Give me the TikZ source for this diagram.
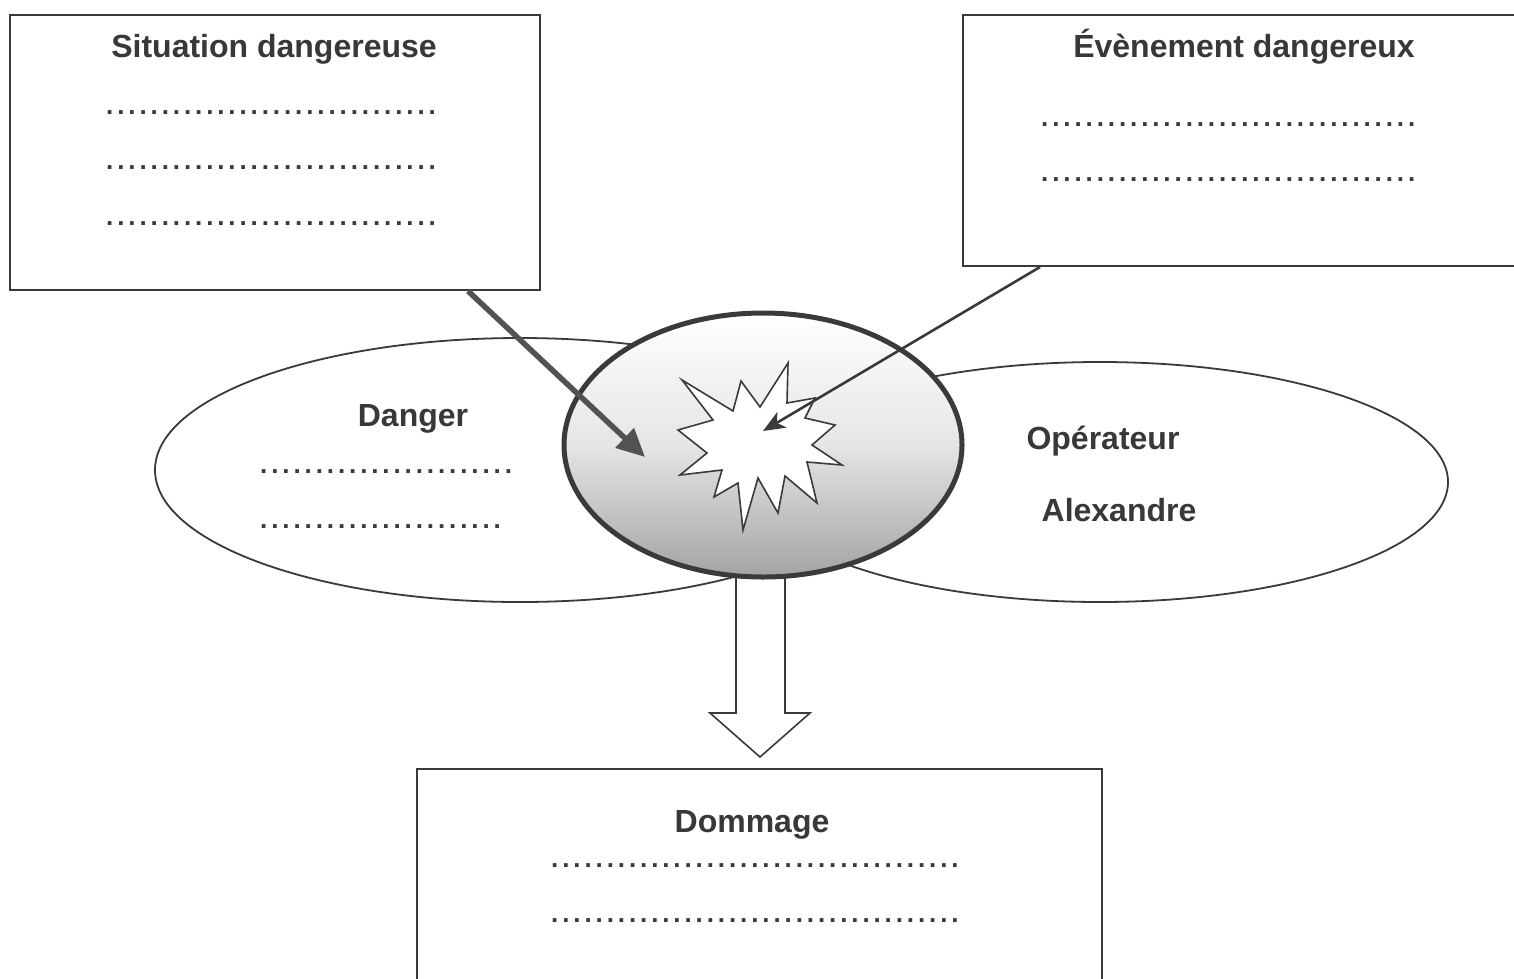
\documentclass[tikz,border=0pt]{standalone}
\usepackage{fontspec}
\setmainfont{Liberation Sans}
\newfontfamily\dotf{Liberation Sans}
\usetikzlibrary{shapes.geometric,arrows.meta}
\definecolor{ink}{HTML}{3A3A3A}
\definecolor{txt}{HTML}{383838}
\newcount\dotcnt
\newcommand\dotline[1]{\dotcnt=0\relax\loop.\advance\dotcnt by 1\relax\ifnum\dotcnt<#1 \kern3.89pt\repeat}
\tikzset{
  lbl/.style={anchor=base,inner sep=0pt,text=txt,font=\fontsize{32}{38}\selectfont\bfseries},
  dotrow/.style={anchor=base west,inner sep=0pt,text height=4pt,text depth=0pt,text=ink,font=\fontsize{26}{30}\dotf\bfseries},
  boxnode/.style={draw=ink,line width=2pt,fill=white,rectangle,inner sep=0pt},
  sideell/.style={draw=ink,line width=1.8pt,fill=white,ellipse,inner sep=0pt},
}
\begin{document}
\begin{tikzpicture}[x=1pt,y=-1pt]
\path[use as bounding box] (0,0) rectangle (1514,978);
\clip (0,0) rectangle (1514,978);
\fill[white] (0,0) rectangle (1514,978);
% side ellipses
\node[sideell,minimum width=730pt,minimum height=264pt] (danger) at (520,470) {};
\node[sideell,minimum width=696pt,minimum height=240pt] (oper) at (1100,482) {};
% block arrow
\draw[ink,line width=1.6pt,fill=white] (736,560) -- (736,713) -- (710,713) -- (760,757) coordinate (btip) -- (810,713) -- (785,713) -- (785,560);
% center ellipse
\node[ellipse,draw=ink,line width=5pt,inner sep=0pt,minimum width=398pt,minimum height=264pt,
      top color=white,bottom color=black!36,middle color=black!10] (risk) at (763,445) {};
% starburst
\draw[ink,line width=1.6pt,fill=white] (682,380) -- (733,411) -- (741,381) -- (760,407) -- (788,363) -- (787,403)
  -- (815,398) -- (805,418) -- (835,425) -- (812,445) -- (842,465) -- (807,462) -- (817,503) -- (785,476)
  -- (778,513) -- (758,478) -- (743,530) -- (738,483) -- (714,497) -- (722,470) -- (680,475) -- (707,453)
  -- (678,430) -- (713,420) -- cycle;
\coordinate (burst) at (763,431);
% boxes
\node[boxnode,minimum width=530pt,minimum height=275pt] (sit) at (275,152.5) {};
\node[boxnode,minimum width=567pt,minimum height=251pt] (evt) at (1246.5,140.5) {};
\node[boxnode,minimum width=685pt,minimum height=231pt] (dom) at (759.5,884.5) {};
% arrows
\coordinate (sitout) at (468,291);
\coordinate (tipL) at (645,457);
\coordinate (evtout) at (1040,267);
\draw[black!68,line width=5.5pt,-{Triangle[length=28pt,width=26pt]}] (sitout) -- (tipL);
\draw[ink,line width=2.6pt,-{Stealth[length=22pt,width=18pt,inset=6pt]}] (evtout) -- (burst);
% labels
\node[lbl] (tsit) at (274,57) {Situation dangereuse};
\node[lbl] (tevt) at (1244,57) {Évènement dangereux};
\node[lbl] (tdan) at (413,426) {Danger};
\node[lbl] (top) at (1103,449) {Opérateur};
\node[lbl] (talex) at (1119,521) {Alexandre};
\node[lbl] (tdom) at (752,832) {Dommage};
% dotted lines
\node[dotrow] (s1) at (106,114) {\dotline{30}};
\node[dotrow] (s2) at (106,169) {\dotline{30}};
\node[dotrow] (s3) at (106,225) {\dotline{30}};
\node[dotrow] (e1) at (1041,126) {\dotline{34}};
\node[dotrow] (e2) at (1041,181) {\dotline{34}};
\node[dotrow] (d1) at (260,473) {\dotline{23}};
\node[dotrow] (d2) at (260,528) {\dotline{22}};
\node[dotrow] (m1) at (551,867) {\dotline{37}};
\node[dotrow] (m2) at (551,922) {\dotline{37}};
\end{tikzpicture}
\end{document}
